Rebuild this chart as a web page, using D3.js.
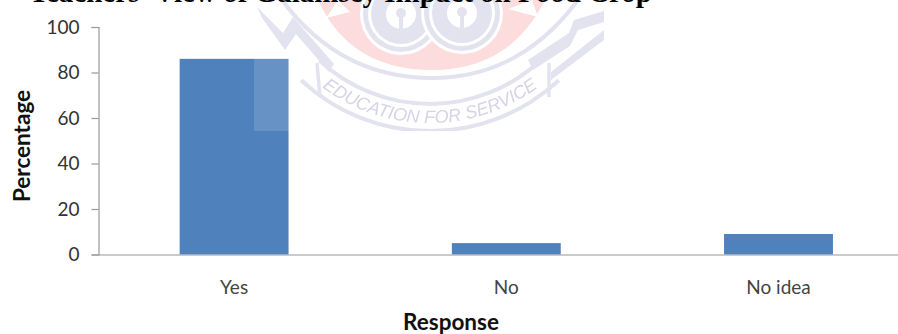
<!DOCTYPE html>
<html><head><meta charset="utf-8">
<script src="https://cdn.jsdelivr.net/npm/d3@7/dist/d3.min.js"></script>
<style>html,body{margin:0;padding:0;background:#fff;overflow:hidden}svg{display:block}</style>
</head><body><svg id="c" width="898" height="334"></svg>
<script>
const categories = ["Yes", "No", "No idea"];
const percentages = [86, 5, 9];
const yTicks = [0, 20, 40, 60, 80, 100];
const titleText = "Teachers' View of Galamsey Impact on Food Crop";
const xTitle = "Response";
const yTitle = "Percentage";
const mottoText = "EDUCATION FOR SERVICE";

const svg = d3.select("#c");
const x = d3.scaleBand().domain(categories).range([98, 914.6]).paddingInner(0.6).paddingOuter(0.3);
const y = d3.scaleLinear().domain([0, 100]).range([254.5, 27]);
const axisColor = "#989898", labelFont = "Lato, 'Open Sans', sans-serif";

// bars
svg.append("g").selectAll("rect").data(categories).join("rect")
  .attr("x", d => x(d)).attr("width", x.bandwidth())
  .attr("y", (d, i) => y(percentages[i]))
  .attr("height", (d, i) => y(0) - y(percentages[i]))
  .attr("fill", "#4f81bd");

// axes
const gy = svg.append("g").attr("transform", "translate(98.5,0)")
  .call(d3.axisLeft(y).tickValues(yTicks).tickSize(7).tickPadding(12));
gy.selectAll("line,path").attr("stroke", axisColor).attr("stroke-width", 1.2);
gy.selectAll("text").attr("font-family", labelFont).attr("font-size", 19).attr("fill", "#333");
const gx = svg.append("g").attr("transform", `translate(0,${y(0)})`)
  .call(d3.axisBottom(x).tickSize(0).tickPadding(26));
gx.selectAll("path").attr("stroke", axisColor).attr("stroke-width", 1.2);
gx.selectAll("text").attr("font-family", labelFont).attr("font-size", 19).attr("fill", "#444");

// watermark (semi-transparent logo image laid over the chart)
const defs = svg.append("defs");
defs.append("clipPath").attr("id", "wm").append("rect").attr("x", 254).attr("y", 0).attr("width", 350).attr("height", 131);
defs.append("filter").attr("id", "soft").append("feGaussianBlur").attr("stdDeviation", 0.7);
const clip = svg.append("g").attr("clip-path", "url(#wm)");
clip.append("rect").attr("x", 254).attr("y", 0).attr("width", 350).attr("height", 131).attr("fill", "#fff").attr("opacity", 0.14);
const wm = clip.append("g").attr("filter", "url(#soft)");
const lav = "#e3e3f0", pink = "#fcdcdc", cx = 430, cy = -58, deg = Math.PI / 180;
const band = (r0, r1, a0, a1) => wm.append("path")
  .attr("transform", `translate(${cx},${cy})`)
  .attr("d", d3.arc()({innerRadius: r0, outerRadius: r1, startAngle: a0 * deg, endAngle: a1 * deg}))
  .attr("fill", lav);
const stroke = (d, w) => wm.append("path").attr("fill", "none").attr("stroke", lav)
  .attr("stroke-width", w).attr("stroke-linejoin", "miter").attr("d", d);
// pink field with its white star points
wm.append("path").attr("fill", pink).attr("d", "M318 0 Q350 70 432 70 Q510 70 545 0 Z");
wm.append("path").attr("fill", "#fff").attr("d", "M326 18 L350 12 L338 0 Z");
wm.append("path").attr("fill", "#fff").attr("d", "M538 17 L508 9 L532 0 Z");
// ring around the field
stroke("M282 0 Q340 78 432 78 Q520 78 578 0", 4);
// wings
wm.append("path").attr("fill", lav).attr("d", "M257 7 L283 33 L293 17 L334 64 L329 72 L296 34 L285 50 L262 18 Z");
wm.append("path").attr("fill", lav).attr("d", "M604 11 L574 20 L569 33 L528 60 L533 70 L570 46 L578 30 L604 22 Z");
wm.append("path").attr("fill", lav).attr("d", "M604 30 L551 72 L551 80 L604 40 Z");
// banner
band(160, 164, 137, 223);
band(187, 191, 137, 223);
stroke("M317 63 L320 97 M549 63 L549 97", 3.5);
// motto
defs.append("path").attr("id", "arc").attr("d", d3.line()(d3.range(-55, 55.1, 1).map(a => {
  const t = a * deg; return [cx + 181 * Math.sin(t), cy + 181 * Math.cos(t)];
})));
wm.append("text").attr("font-family", "'Liberation Sans',sans-serif").attr("font-style", "italic").attr("font-size", 18).attr("fill", "#d4d4e6")
  .append("textPath").attr("href", "#arc").attr("startOffset", "50%").attr("text-anchor", "middle").text(mottoText);
// keyholes and rings
[[401, 14], [462, 13]].forEach(([kx, ky]) => {
  [[41, "#fff"], [38, lav], [33, "#fff"], [30, lav], [15, "#fff"]].forEach(([r, f]) =>
    wm.append("circle").attr("cx", kx).attr("cy", ky).attr("r", r).attr("fill", f));
  wm.append("circle").attr("cx", kx).attr("cy", ky - 1).attr("r", 5).attr("fill", lav);
  wm.append("rect").attr("x", kx - 2).attr("y", ky).attr("width", 4).attr("height", 15).attr("fill", lav);
});

// cropped title
svg.append("text").attr("x", 652).attr("y", 1.5).attr("text-anchor", "end")
  .attr("font-family", "'Liberation Serif',serif").attr("font-weight", 700).attr("font-size", 29).attr("fill", "#000").text(titleText);

// axis titles
const titleFont = {family: labelFont, size: 22.5};
svg.append("text").attr("x", 451).attr("y", 330).attr("text-anchor", "middle")
  .attr("font-family", titleFont.family).attr("font-weight", 700).attr("font-size", titleFont.size).attr("fill", "#111").text(xTitle);
svg.append("text").attr("transform", "translate(30,146) rotate(-90)").attr("text-anchor", "middle")
  .attr("font-family", titleFont.family).attr("font-weight", 700).attr("font-size", titleFont.size).attr("fill", "#111").text(yTitle);
</script></body></html>
